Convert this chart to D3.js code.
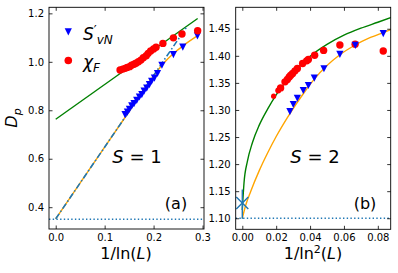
<!DOCTYPE html>
<html><head><meta charset="utf-8">
<script src="https://cdn.jsdelivr.net/npm/d3@7"></script>
<style>body{margin:0;background:#fff}svg{display:block}text{font-family:"DejaVu Sans",sans-serif}</style>
</head><body>
<svg id="chart" width="398" height="273"></svg>
<script>
// ---------- Panel (a): S = 1 ----------
const aTicksX = [0.0, 0.1, 0.2, 0.3];
const aTickLabelsX = ["0.0", "0.1", "0.2", "0.3"];
const aTicksY = [0.4, 0.6, 0.8, 1.0, 1.2];
const aTickLabelsY = ["0.4", "0.6", "0.8", "1.0", "1.2"];
const aSvnX = [0.1417,0.1465,0.1506,0.1554,0.160,0.1656,0.171,0.176,0.1806,0.186,0.1915,0.196,0.2017,0.208,0.217,0.2405,0.2597,0.2896];
const aSvnY = [0.783,0.794,0.805,0.819,0.829,0.842,0.856,0.866,0.880,0.893,0.907,0.921,0.934,0.953,0.987,1.031,1.062,1.108];
const aChiX = [0.1315,0.137,0.142,0.146,0.151,0.155,0.160,0.164,0.169,0.174,0.179,0.185,0.189,0.194,0.200,0.205,0.219,0.2405,0.258,0.290];
const aChiY = [0.966,0.970,0.973,0.977,0.980,0.986,0.990,0.994,1.000,1.007,1.017,1.025,1.035,1.045,1.053,1.060,1.076,1.099,1.115,1.128];
const aGreenX = [0.0, 0.29];
const aGreenY = [0.763, 1.179];
const aOrangeX = [0.0, 0.05, 0.10, 0.15, 0.20, 0.22, 0.24, 0.26, 0.29];
const aOrangeY = [0.352, 0.500, 0.648, 0.795, 0.942, 0.993, 1.033, 1.066, 1.108];
const aBlueX = [0.0, 0.268];
const aBlueY = [0.352, 1.145];
const aFloor = 0.35;

// ---------- Panel (b): S = 2 ----------
const bTicksX = [0.00, 0.02, 0.04, 0.06, 0.08];
const bTickLabelsX = ["0.00", "0.02", "0.04", "0.06", "0.08"];
const bTicksY = [1.10, 1.15, 1.20, 1.25, 1.30, 1.35, 1.40, 1.45];
const bTickLabelsY = ["1.10", "1.15", "1.20", "1.25", "1.30", "1.35", "1.40", "1.45"];
const bSvnX = [0.0281,0.0301,0.0325,0.036,0.039,0.0425,0.0482,0.0576,0.0667,0.0832];
const bSvnY = [1.2974,1.3106,1.3222,1.3365,1.3457,1.3593,1.3767,1.4031,1.4198,1.4415];
const bChiX = [0.0185,0.0212,0.0226,0.0252,0.0266,0.0277,0.0286,0.0297,0.0311,0.0325,0.0356,0.0380,0.0390,0.0427,0.0480,0.0576,0.0666,0.0832];
const bChiY = [1.3254,1.3360,1.3407,1.3519,1.3563,1.3611,1.3643,1.3674,1.3722,1.3767,1.3859,1.3907,1.3933,1.4010,1.4100,1.4200,1.4215,1.4090];
const bGreenX = [0.0, 0.001, 0.003, 0.006, 0.010, 0.015, 0.020, 0.030, 0.040, 0.050, 0.060, 0.070, 0.080, 0.089];
const bGreenY = [1.115, 1.165, 1.205, 1.240, 1.272, 1.302, 1.328, 1.368, 1.399, 1.421, 1.438, 1.451, 1.462, 1.472];
const bOrangeX = [0.0, 0.002, 0.005, 0.010, 0.015, 0.020, 0.028, 0.036, 0.0425, 0.050, 0.0576, 0.0667, 0.075, 0.0832, 0.0891];
const bOrangeY = [1.100, 1.124, 1.150, 1.188, 1.221, 1.251, 1.293, 1.330, 1.357, 1.382, 1.402, 1.420, 1.433, 1.443, 1.450];
const bCross = {x: 0.0, y: 1.128, lo: 1.099, hi: 1.153};
const bFloor = 1.10;

const svg = d3.select("#chart");
const C = {green:"#008000", orange:"#ffa500", blue:"#0000ff", red:"#ff0000", tab:"#1f77b4"};

function panel(o) {
  const x = d3.scaleLinear().domain(o.xd).range([o.x0, o.x1]);
  const y = d3.scaleLinear().domain(o.yd).range([o.y1, o.y0]);
  const g = svg.append("g");
  const clipId = "clip" + o.id;
  svg.append("clipPath").attr("id", clipId).append("rect")
    .attr("x", o.x0).attr("y", o.y0).attr("width", o.x1 - o.x0).attr("height", o.y1 - o.y0);
  const pg = g.append("g").attr("clip-path", `url(#${clipId})`);
  const line = d3.line().x(d => x(d[0])).y(d => y(d[1]));
  return {x, y, g, pg, line};
}

function axes(p, o) {
  const tl = 3.5;
  const bottom = d3.axisBottom(p.x).tickValues(o.tx).tickFormat((d,i)=>o.tlx[i]).tickSizeInner(-tl).tickSizeOuter(0).tickPadding(4.5);
  const top = d3.axisTop(p.x).tickValues(o.tx).tickFormat("").tickSizeInner(-tl).tickSizeOuter(0);
  const left = d3.axisLeft(p.y).tickValues(o.ty).tickFormat((d,i)=>o.tly[i]).tickSizeInner(-tl).tickSizeOuter(0).tickPadding(5);
  const right = d3.axisRight(p.y).tickValues(o.ty).tickFormat("").tickSizeInner(-tl).tickSizeOuter(0);
  const ax = [
    p.g.append("g").attr("transform", `translate(0,${o.y1})`).call(bottom),
    p.g.append("g").attr("transform", `translate(0,${o.y0})`).call(top),
    p.g.append("g").attr("transform", `translate(${o.x0},0)`).call(left),
    p.g.append("g").attr("transform", `translate(${o.x1},0)`).call(right)
  ];
  ax.forEach(a => {
    a.select(".domain").remove();
    a.selectAll("line").attr("stroke", "#000").attr("stroke-width", 0.8);
    a.selectAll("text").attr("font-size", 10).attr("fill", "#000").attr("font-family", "DejaVu Sans");
  });
  p.g.append("rect").attr("x", o.x0).attr("y", o.y0).attr("width", o.x1 - o.x0).attr("height", o.y1 - o.y0)
    .attr("fill", "none").attr("stroke", "#000").attr("stroke-width", 0.9);
}

const triPath = "M-3.6,-3.3L3.6,-3.3L0,3.9Z";

// ----- Panel a -----
const oa = {id:"a", x0:49, x1:204, y0:7.3, y1:229, xd:[-0.0137, 0.303], yd:[0.31, 1.225],
  tx:aTicksX, tlx:aTickLabelsX, ty:aTicksY, tly:aTickLabelsY};
const pa = panel(oa);
pa.pg.append("line").attr("x1", oa.x0).attr("x2", oa.x1).attr("y1", pa.y(aFloor)).attr("y2", pa.y(aFloor))
  .attr("stroke", C.tab).attr("stroke-width", 1.4).attr("stroke-dasharray", "1.4,2.3");
pa.pg.append("path").attr("d", pa.line(d3.zip(aGreenX, aGreenY))).attr("fill","none").attr("stroke",C.green).attr("stroke-width",1.4);
pa.pg.append("path").attr("d", d3.line().x(d=>pa.x(d[0])).y(d=>pa.y(d[1])).curve(d3.curveMonotoneX)(d3.zip(aOrangeX, aOrangeY)))
  .attr("fill","none").attr("stroke",C.orange).attr("stroke-width",1.4);
pa.pg.append("path").attr("d", pa.line(d3.zip(aBlueX, aBlueY))).attr("fill","none").attr("stroke",C.tab)
  .attr("stroke-width",1.6).attr("stroke-dasharray","6,2.4,1.5,2.4");
pa.pg.selectAll(".tri").data(d3.zip(aSvnX, aSvnY)).join("path").attr("d", triPath)
  .attr("transform", d=>`translate(${pa.x(d[0])},${pa.y(d[1])})`).attr("fill", C.blue);
pa.pg.selectAll(".dot").data(d3.zip(aChiX, aChiY)).join("circle")
  .attr("cx", d=>pa.x(d[0])).attr("cy", d=>pa.y(d[1])).attr("r", 3.7).attr("fill", C.red);
axes(pa, oa);

// ----- Panel b -----
const ob = {id:"b", x0:235.7, x1:390.7, y0:7.3, y1:229.3, xd:[-0.0039, 0.0876], yd:[1.0796, 1.4896],
  tx:bTicksX, tlx:bTickLabelsX, ty:bTicksY, tly:bTickLabelsY};
const pb = panel(ob);
pb.pg.append("line").attr("x1", ob.x0).attr("x2", ob.x1).attr("y1", pb.y(bFloor)).attr("y2", pb.y(bFloor))
  .attr("stroke", C.tab).attr("stroke-width", 1.4).attr("stroke-dasharray", "1.4,2.3");
const curve = d3.line().x(d=>pb.x(d[0])).y(d=>pb.y(d[1])).curve(d3.curveMonotoneX);
pb.pg.append("path").attr("d", curve(d3.zip(bGreenX, bGreenY))).attr("fill","none").attr("stroke",C.green).attr("stroke-width",1.4);
pb.pg.append("path").attr("d", curve(d3.zip(bOrangeX, bOrangeY))).attr("fill","none").attr("stroke",C.orange).attr("stroke-width",1.4);
pb.pg.selectAll(".dot").data(d3.zip(bChiX, bChiY)).join("circle")
  .attr("cx", d=>pb.x(d[0])).attr("cy", d=>pb.y(d[1])).attr("r", (d,i)=> i===0 ? 2.6 : (i===1 ? 3.0 : 3.7)).attr("fill", C.red);
pb.pg.selectAll(".tri").data(d3.zip(bSvnX, bSvnY)).join("path").attr("d", triPath)
  .attr("transform", d=>`translate(${pb.x(d[0])},${pb.y(d[1])})`).attr("fill", C.blue);
// cross with error bar
const cx = pb.x(bCross.x), cy = pb.y(bCross.y);
pb.g.append("line").attr("x1", cx).attr("x2", cx).attr("y1", pb.y(bCross.lo)).attr("y2", pb.y(bCross.hi)).attr("stroke", C.tab).attr("stroke-width", 1.4);
pb.g.append("path").attr("d", `M${cx-6},${cy-6}L${cx+6},${cy+6}M${cx-6},${cy+6}L${cx+6},${cy-6}`).attr("stroke", C.tab).attr("stroke-width", 1.4);
axes(pb, ob);

// ----- Texts -----
function mathText(x, y, size, anchor) {
  return svg.append("text").attr("x", x).attr("y", y).attr("font-size", size).attr("text-anchor", anchor || "middle").attr("fill", "#000");
}
let t = mathText(137, 163, 18);
t.append("tspan").attr("font-style", "italic").text("S");
t.append("tspan").text(" = 1");
t = mathText(315, 163, 18);
t.append("tspan").attr("font-style", "italic").text("S");
t.append("tspan").text(" = 2");
mathText(176, 209, 16).text("(a)");
mathText(365, 209, 16).text("(b)");

// legend
svg.append("path").attr("d", triPath).attr("transform", "translate(68.3,31.5)").attr("fill", C.blue);
svg.append("circle").attr("cx", 68.3).attr("cy", 60.5).attr("r", 3.8).attr("fill", C.red);
t = mathText(83, 40, 17, "start");
t.append("tspan").attr("font-style", "italic").text("S");
t.append("tspan").attr("font-size", 13).attr("dy", -6).text("′");
t.append("tspan").attr("font-style", "italic").attr("font-size", 12).attr("dy", 10).text("vN");
t = mathText(83, 68, 17, "start");
t.append("tspan").attr("font-style", "italic").text("χ");
t.append("tspan").attr("font-style", "italic").attr("font-size", 12).attr("dy", 4).text("F");

// axis labels
t = mathText(126, 258.5, 16);
t.append("tspan").text("1/ln(");
t.append("tspan").attr("font-style", "italic").text("L");
t.append("tspan").text(")");
t = mathText(313, 258.5, 16);
t.append("tspan").text("1/ln");
t.append("tspan").attr("font-size", 11).attr("dy", -6).text("2");
t.append("tspan").attr("dy", 6).text("(");
t.append("tspan").attr("font-style", "italic").text("L");
t.append("tspan").text(")");
t = svg.append("text").attr("transform", "translate(17,118) rotate(-90)").attr("text-anchor", "middle").attr("font-size", 16);
t.append("tspan").attr("font-style", "italic").text("D");
t.append("tspan").attr("font-style", "italic").attr("font-size", 11).attr("dy", 4).text("p");
</script>
</body></html>
